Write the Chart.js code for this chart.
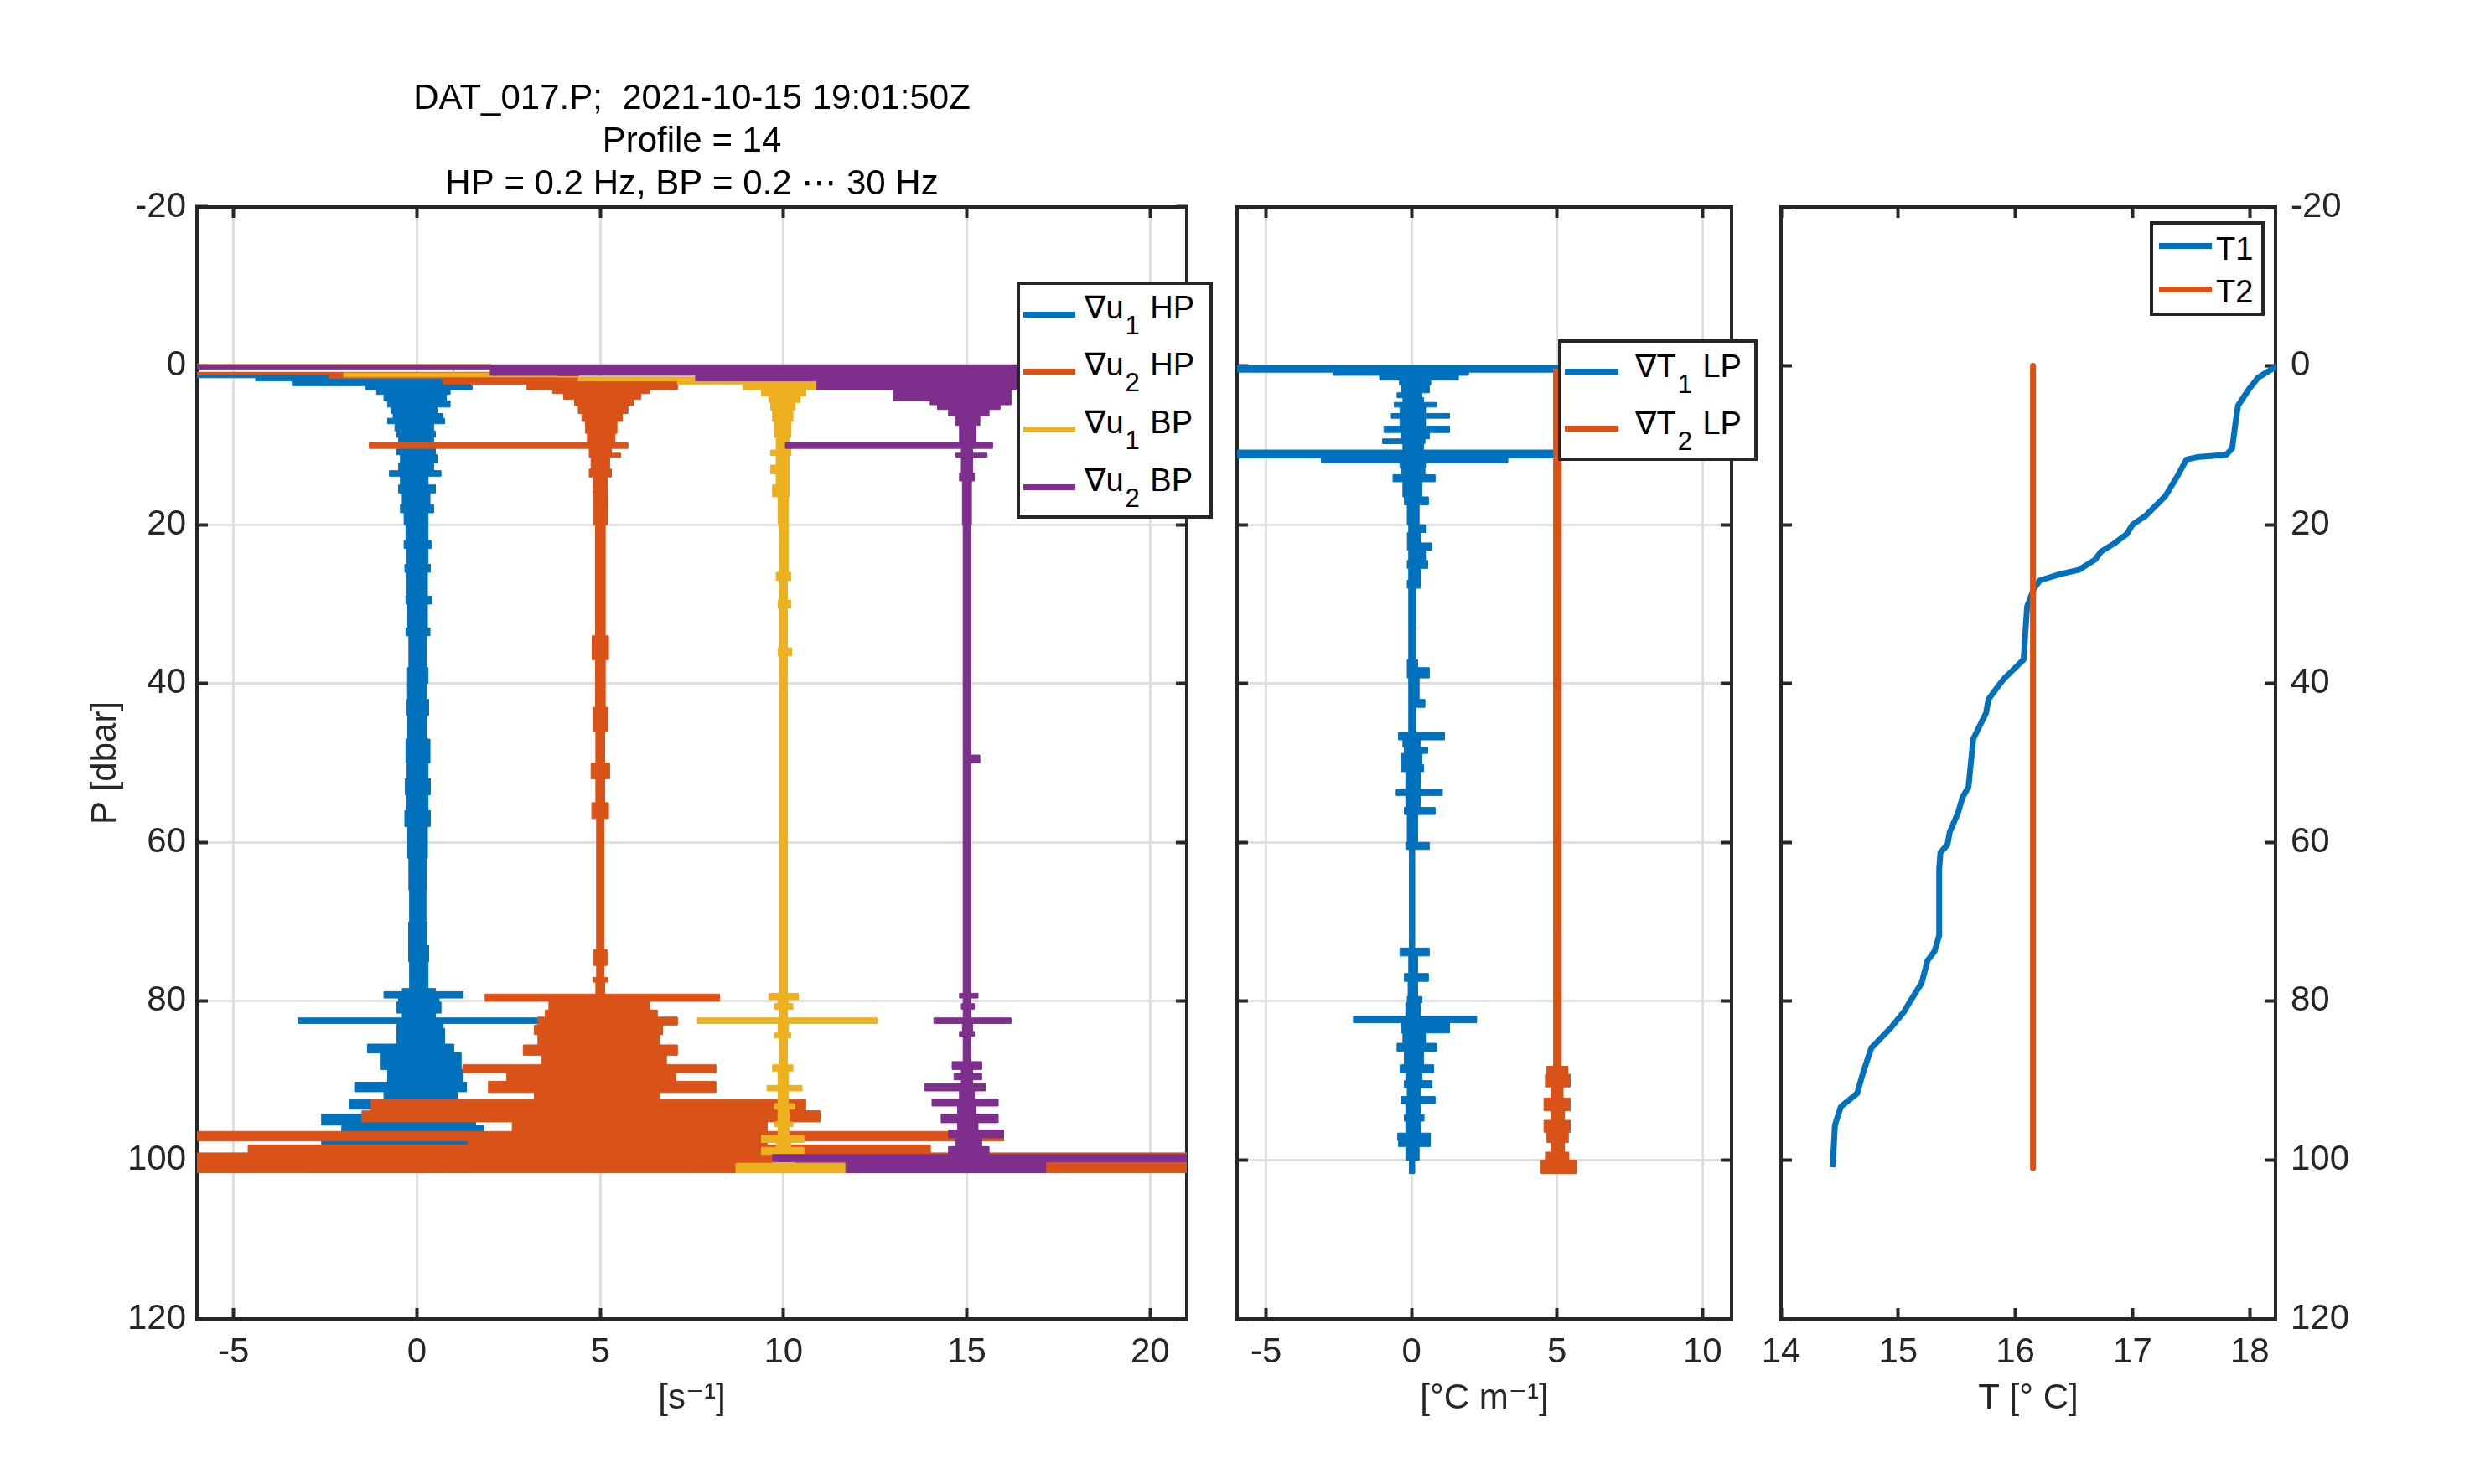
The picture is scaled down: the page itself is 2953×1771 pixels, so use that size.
<!DOCTYPE html>
<html>
<head>
<meta charset="utf-8">
<script src="https://cdn.jsdelivr.net/npm/chart.js@4.4.1/dist/chart.umd.min.js"></script>
<style>
html,body{margin:0;padding:0;background:#fff;}
#wrap{position:relative;width:2953px;height:1771px;overflow:hidden;background:#fff;font-family:"Liberation Sans",Arial,"DejaVu Sans",sans-serif;}
canvas{position:absolute;top:0;}
.leg{position:absolute;background:#fff;box-shadow:inset 0 0 0 4px #262626;}
.ls{position:absolute;height:7px;}
.lt{position:absolute;font-size:38px;line-height:38px;white-space:nowrap;color:#000;}
.lt sub{font-size:31px;vertical-align:-19px;line-height:0;margin-left:2px;margin-right:2px;}
</style>
</head>
<body>
<div id="wrap">
<canvas id="c1" width="1440" height="1771" style="left:0px"></canvas>
<canvas id="c2" width="660" height="1771" style="left:1440px"></canvas>
<canvas id="c3" width="853" height="1771" style="left:2100px"></canvas>

<div class="leg" style="left:1213px;top:336px;width:234px;height:283px">
  <div class="ls" style="left:8px;top:35.5px;width:62px;background:#0072BD"></div>
  <div class="lt" style="left:81px;top:12px">∇u<sub>1</sub> HP</div>
  <div class="ls" style="left:8px;top:103.5px;width:62px;background:#D95319"></div>
  <div class="lt" style="left:81px;top:80px">∇u<sub>2</sub> HP</div>
  <div class="ls" style="left:8px;top:172.5px;width:62px;background:#EDB120"></div>
  <div class="lt" style="left:81px;top:149px">∇u<sub>1</sub> BP</div>
  <div class="ls" style="left:8px;top:241.5px;width:62px;background:#7E2F8E"></div>
  <div class="lt" style="left:81px;top:218px">∇u<sub>2</sub> BP</div>
</div>

<div class="leg" style="left:1859px;top:405px;width:238px;height:145px">
  <div class="ls" style="left:8px;top:34.5px;width:64px;background:#0072BD"></div>
  <div class="lt" style="left:92px;top:13px">∇T<sub>1</sub> LP</div>
  <div class="ls" style="left:8px;top:102.5px;width:64px;background:#D95319"></div>
  <div class="lt" style="left:92px;top:81px">∇T<sub>2</sub> LP</div>
</div>

<div class="leg" style="left:2565px;top:264px;width:137px;height:113px">
  <div class="ls" style="left:11px;top:26px;width:63px;background:#0072BD"></div>
  <div class="lt" style="left:79px;top:13.5px">T1</div>
  <div class="ls" style="left:11px;top:77.5px;width:63px;background:#D95319"></div>
  <div class="lt" style="left:79px;top:65px">T2</div>
</div>
</div>

<script>
// ---------------- DATA ----------------
const TITLE_LINES = ['DAT_017.P;  2021-10-15 19:01:50Z', 'Profile = 14', 'HP = 0.2 Hz, BP = 0.2 \u22EF 30 Hz'];
const P_TICKS = [-20, 0, 20, 40, 60, 80, 100, 120];
const X1_TICKS = [-5, 0, 5, 10, 15, 20];
const X2_TICKS = [-5, 0, 5, 10];
const X3_TICKS = [14, 15, 16, 17, 18];

// Shear panel: band edges in pressure [dbar], with left/right extent of each band [s^-1]
// ∇u1 HP
const U1HP_P  = [1.0,1.5,1.9,2.5,3.0,3.6,4.4,5.2,6.0,6.6,7.3,8.2,9.0,9.7,10.4,11.2,12.2,13.2,13.9,15.0,16.0,17.5,18.5,20,22,23,25,26,29,30,33,34,38,40,42,44,47,50,52,54,56,58,62,66,70,73,75,78.4,78.8,79.6,80.1,81.5,82.1,82.8,83.4,85.4,86.5,88.6,90.2,91.4,92.4,93.6,94.2,95.6,96.7,97.6,98.2,99.2,101.5];
const U1HP_LO = [-6,-4.4,-3.4,-1.4,-1.1,-0.9,-0.8,-0.7,-0.65,-0.8,-0.6,-0.55,-0.5,-0.45,-0.55,-0.45,-0.5,-0.75,-0.45,-0.5,-0.4,-0.45,-0.35,-0.3,-0.35,-0.28,-0.33,-0.28,-0.3,-0.25,-0.3,-0.22,-0.26,-0.25,-0.28,-0.25,-0.3,-0.27,-0.32,-0.28,-0.33,-0.25,-0.22,-0.2,-0.23,-0.22,-0.2,-0.4,-0.9,-0.5,-0.55,-0.4,-3.24,-0.55,-0.55,-1.35,-1.0,-0.8,-1.7,-0.9,-1.85,-1.2,-2.6,-2.05,-1.2,-2.6,-4.6,-3.0];
const U1HP_HI = [1.0,1.5,1.45,1.5,0.9,0.8,0.9,0.55,0.7,0.75,0.45,0.5,0.45,0.45,0.5,0.55,0.45,0.65,0.3,0.5,0.35,0.45,0.3,0.3,0.38,0.3,0.36,0.28,0.4,0.28,0.35,0.25,0.3,0.25,0.32,0.27,0.35,0.3,0.36,0.3,0.36,0.28,0.25,0.24,0.27,0.32,0.3,0.5,1.25,0.6,0.65,0.5,3.3,0.7,0.75,1.0,1.2,1.25,1.35,1.1,1.25,1.4,1.6,1.8,1.6,1.4,1.4,1.5];
// ∇u2 HP (plotted with +5 offset)
const U2HP_P  = [0.75,1.05,1.6,2.3,3.0,3.5,4.2,5.0,6.0,7.0,8.5,9.7,10.4,11.0,11.5,13,14,16,20,34,37,43,46,50,52,55,57,73.5,75.5,77,77.6,79.1,80.0,81.1,82.0,83.0,84.2,85.5,86.8,88.0,89.0,90.1,91.5,92.4,93.8,95.2,96.4,97.6,98.1,99.1,101.6];
const U2HP_LO = [-6,-2.4,0.7,3.0,3.7,4.0,4.3,4.4,4.5,4.6,4.65,-1.3,4.7,4.7,4.75,4.7,4.8,4.82,4.87,4.78,4.87,4.8,4.88,4.75,4.88,4.77,4.9,4.82,4.9,4.8,4.88,1.86,3.6,3.5,3.3,3.2,3.3,2.9,3.4,1.25,2.45,1.95,3.2,-1.25,-1.5,2.6,-6,1.4,-4.6,-6];
const U2HP_HI = [3.7,4.4,7.1,7.1,6.35,6.1,5.9,5.75,5.6,5.45,5.4,5.75,5.3,5.55,5.25,5.3,5.2,5.18,5.13,5.22,5.13,5.2,5.12,5.25,5.12,5.22,5.1,5.18,5.1,5.2,5.12,8.25,6.35,6.55,7.1,6.7,6.6,7.1,6.8,8.15,7.05,8.15,6.6,10.6,11.0,9.55,16.0,9.55,14.0,21];
// ∇u1 BP (plotted with +10 offset)
const U1BP_P  = [-0.25,0.05,0.9,1.4,1.9,2.3,3.0,3.8,4.6,5.6,7.0,9.0,10.0,10.6,11.3,12.5,13.6,15,16.5,20,26,27,29.5,30.5,35.5,36.5,79.0,79.8,80.3,81.0,82.1,82.8,84.0,84.6,88.0,88.8,90.6,91.3,92.9,93.6,95.2,95.8,96.9,97.8,98.4,99.3,100.4,101.6];
const U1BP_LO = [-6,1.0,-2.0,4.4,7.1,8.9,9.4,9.6,9.65,9.7,9.75,9.8,9.8,9.65,9.8,9.65,9.8,9.7,9.85,9.88,9.8,9.88,9.85,9.88,9.85,9.88,9.6,9.85,9.75,9.88,7.65,9.85,9.75,9.88,9.7,9.85,9.55,9.85,9.75,9.85,9.75,9.85,9.4,9.8,9.4,9.7,8.7];
const U1BP_HI = [2.0,1.0,3.8,9.2,11.3,11.1,10.6,10.45,10.3,10.25,10.2,10.15,10.2,10.2,10.15,10.15,10.15,10.15,10.12,10.12,10.2,10.1,10.2,10.1,10.22,10.1,10.4,10.12,10.25,10.1,12.55,10.12,10.2,10.1,10.25,10.12,10.5,10.12,10.3,10.15,10.25,10.15,10.55,10.2,10.55,10.3,11.7];
// ∇u2 BP (plotted with +15 offset)
const U2BP_P  = [-0.2,0.4,1.2,1.9,3.0,4.4,4.9,5.5,6.3,7.5,9.7,10.4,11.0,11.5,13.5,14.5,20,49,50,79.0,79.6,80.3,81.0,82.1,82.8,83.8,84.4,87.6,88.6,89.1,89.9,90.4,91.3,92.3,93.2,94.2,95.3,96.2,97.2,98.3,99.3,100.2,101.6];
const U2BP_LO = [-6,2.0,7.6,10.9,13.0,14.0,14.2,14.5,14.7,14.8,10.05,14.85,14.7,14.85,14.8,14.88,14.9,14.9,14.9,14.8,14.9,14.85,14.9,14.1,14.88,14.8,14.9,14.6,14.85,14.65,14.85,13.85,14.8,14.05,14.75,14.3,14.75,14.5,14.7,14.5,9.7,11.7];
const U2BP_HI = [17.0,16.9,16.6,16.5,16.2,16.2,15.9,15.6,15.35,15.25,15.7,15.15,15.55,15.15,15.2,15.12,15.1,15.35,15.1,15.3,15.1,15.2,15.1,16.2,15.15,15.2,15.1,15.4,15.15,15.4,15.15,15.5,15.2,15.85,15.25,15.85,15.3,16.0,15.4,15.6,21,17.15];

// Temperature gradient panel [°C m^-1]
const T1LP_P  = [-0.1,0.8,1.2,1.8,2.4,3.4,4.0,4.6,5.2,6.0,6.6,7.6,8.4,9.2,9.8,10.6,11.6,12.2,12.8,13.7,14.6,16.5,17.5,20,21,22.3,23.2,24.5,25.5,27,28,33,37,38,39.3,42,43,46.2,47.1,48.0,48.8,50.2,51.1,53.3,54.1,55.6,56.5,60.0,60.9,73.3,74.3,76.5,77.5,79.4,80.2,81.9,82.7,84.0,85.3,86.3,88.0,89.0,90.0,90.9,92.0,92.9,94.3,95.1,96.6,97.5,98.3,100.0,101.7];
const T1LP_LO = [-6,-2.7,-1.1,-0.42,-0.35,-0.5,-0.3,-0.6,-0.4,-0.7,-0.4,-0.95,-0.35,-1.0,-0.3,-6,-3.1,-0.4,-0.35,-0.64,-0.3,-0.25,-0.15,-0.1,-0.15,-0.14,-0.1,-0.15,-0.1,-0.15,-0.1,-0.1,-0.15,-0.15,-0.1,-0.1,-0.1,-0.45,-0.3,-0.25,-0.35,-0.35,-0.2,-0.53,-0.2,-0.25,-0.15,-0.2,-0.08,-0.4,-0.1,-0.25,-0.12,-0.15,-0.2,-2.0,-0.35,-0.3,-0.5,-0.25,-0.4,-0.2,-0.25,-0.15,-0.36,-0.2,-0.25,-0.2,-0.48,-0.45,-0.2,-0.08];
const T1LP_HI = [8,1.95,1.6,0.65,0.6,0.35,0.4,0.85,0.5,1.3,0.5,1.3,0.6,0.45,0.4,8,3.3,0.5,0.45,0.8,0.35,0.57,0.25,0.5,0.3,0.68,0.5,0.55,0.3,0.3,0.15,0.12,0.2,0.6,0.25,0.45,0.15,1.13,0.3,0.55,0.35,0.4,0.3,1.05,0.3,0.8,0.2,0.6,0.1,0.6,0.2,0.57,0.2,0.35,0.3,2.23,1.3,0.5,0.85,0.4,0.75,0.35,0.7,0.3,0.8,0.3,0.42,0.3,0.65,0.63,0.25,0.1];
// ∇T2 LP (plotted with +5 offset)
const T2LP_P  = [0.3,88.2,89.2,90.8,92.2,93.8,95.0,96.5,97.8,99.0,100.0,101.7];
const T2LP_LO = [4.88,4.65,4.6,4.8,4.55,4.8,4.55,4.65,4.8,4.6,4.45];
const T2LP_HI = [5.14,5.37,5.45,5.2,5.45,5.25,5.45,5.38,5.25,5.4,5.65];

// Temperature profiles [°C] vs pressure [dbar]
const T1_P = [0,0.5,1.5,3.0,5.0,7.0,10.4,11.2,11.5,11.8,13.7,16.4,18.9,20.0,21.2,22.4,23.4,24.4,25.7,26.2,27.0,28.0,30.3,37.0,37.7,39.3,40.0,42.0,43.7,47.0,53.0,54.3,56.3,58.7,60.3,61.3,63.3,71.7,73.7,74.9,77.7,80.3,81.3,83.3,85.9,89.0,91.6,93.3,95.6,100.9];
const T1_T = [18.23,18.18,18.07,17.99,17.9,17.88,17.85,17.8,17.55,17.46,17.39,17.28,17.11,17.0,16.95,16.84,16.73,16.68,16.54,16.39,16.21,16.16,16.1,16.07,16.02,15.91,15.87,15.77,15.75,15.64,15.6,15.55,15.51,15.44,15.42,15.36,15.35,15.35,15.31,15.25,15.2,15.09,15.05,14.94,14.77,14.7,14.65,14.51,14.46,14.44];
const T2_P = [0, 101];
const T2_T = [16.15, 16.15];

// ---------------- STYLE ----------------
const FF = '"Liberation Sans", Arial, "DejaVu Sans", sans-serif';
const FS = 42;
const AX = '#262626', GRIDC = '#dfdfdf';
const BLUE = '#0072BD', ORANGE = '#D95319', YELLOW = '#EDB120', PURPLE = '#7E2F8E';
Chart.defaults.font.family = FF;
Chart.defaults.font.size = FS;
Chart.defaults.color = AX;

function bandPoints(P, LO, HI) {
  const n = Math.min(LO.length, HI.length, P.length - 1);
  const pts = [];
  for (let i = 0; i < n; i++) { pts.push({x: HI[i], y: P[i]}, {x: HI[i], y: P[i + 1]}); }
  for (let i = n - 1; i >= 0; i--) { pts.push({x: LO[i], y: P[i + 1]}, {x: LO[i], y: P[i]}); }
  return pts;
}
function band(label, P, LO, HI, color, order) {
  return {label, data: bandPoints(P, LO, HI), showLine: true, fill: 'shape',
    backgroundColor: color, borderColor: color, borderWidth: 1, pointRadius: 0, tension: 0, order};
}
function profile(label, P, T, color, order) {
  return {label, data: P.map((p, i) => ({x: T[i], y: p})), showLine: true, fill: false,
    backgroundColor: color, borderColor: color, borderWidth: 7, pointRadius: 0, tension: 0,
    borderJoinStyle: 'round', order};
}
function axis(o) {
  const horiz = o.pos === 'top' || o.pos === 'bottom';
  return {
    type: 'linear', axis: horiz ? 'x' : 'y', position: o.pos, min: o.min, max: o.max, reverse: !!o.reverse,
    afterBuildTicks: a => { a.ticks = o.ticks.map(v => ({value: v})); },
    afterFit: a => {
      if (horiz) { a.height = o.fit; a.paddingLeft = 0; a.paddingRight = 0; }
      else { a.width = o.fit; a.paddingTop = 0; a.paddingBottom = 0; }
    },
    grid: {display: true, drawOnChartArea: !!o.grid, drawTicks: true, tickLength: -13,
      color: GRIDC, lineWidth: 3, tickColor: AX, tickWidth: 4},
    border: {display: true, color: AX, width: 4},
    ticks: {display: !!o.labels, color: AX, font: {family: FF, size: FS}, padding: o.pad || 0,
      maxRotation: 0, minRotation: 0, autoSkip: false},
    title: o.title ? {display: true, text: o.title, color: AX, font: {family: FF, size: FS},
      padding: {top: o.tpad, bottom: o.tpad}} : {display: false}
  };
}
const base = {responsive: false, animation: false, devicePixelRatio: 1, events: [], layout: {padding: 0}};
const noPlug = {legend: {display: false}, tooltip: {enabled: false}};

// Panel 1: shear
new Chart(document.getElementById('c1'), {
  type: 'scatter',
  data: {datasets: [
    band('\u2207u\u2081 HP', U1HP_P, U1HP_LO, U1HP_HI, BLUE, 4),
    band('\u2207u\u2082 HP', U2HP_P, U2HP_LO, U2HP_HI, ORANGE, 3),
    band('\u2207u\u2081 BP', U1BP_P, U1BP_LO, U1BP_HI, YELLOW, 2),
    band('\u2207u\u2082 BP', U2BP_P, U2BP_LO, U2BP_HI, PURPLE, 1)
  ]},
  options: Object.assign({}, base, {
    plugins: Object.assign({}, noPlug, {
      title: {display: true, text: TITLE_LINES, fullSize: false, color: '#000',
        font: {family: FF, size: FS, weight: 'normal', lineHeight: 51 / FS}, padding: {top: 93, bottom: 1}}
    }),
    scales: {
      x: axis({pos: 'bottom', min: -6, max: 21, ticks: X1_TICKS, labels: true, grid: true, fit: 197, pad: 28, title: '[s\u207B\u00B9]', tpad: 76}),
      x2: axis({pos: 'top', min: -6, max: 21, ticks: X1_TICKS, fit: 0}),
      y: axis({pos: 'left', min: -20, max: 120, reverse: true, ticks: P_TICKS, labels: true, grid: true, fit: 235, pad: 26, title: 'P [dbar]', tpad: 101}),
      y2: axis({pos: 'right', min: -20, max: 120, reverse: true, ticks: P_TICKS, fit: 24})
    }
  })
});

// Panel 2: temperature gradient
new Chart(document.getElementById('c2'), {
  type: 'scatter',
  data: {datasets: [
    band('\u2207T\u2081 LP', T1LP_P, T1LP_LO, T1LP_HI, BLUE, 2),
    band('\u2207T\u2082 LP', T2LP_P, T2LP_LO, T2LP_HI, ORANGE, 1)
  ]},
  options: Object.assign({}, base, {
    plugins: noPlug,
    scales: {
      x: axis({pos: 'bottom', min: -6, max: 11, ticks: X2_TICKS, labels: true, grid: true, fit: 197, pad: 28, title: '[\u00B0C m\u207B\u00B9]', tpad: 76}),
      x2: axis({pos: 'top', min: -6, max: 11, ticks: X2_TICKS, fit: 247}),
      y: axis({pos: 'left', min: -20, max: 120, reverse: true, ticks: P_TICKS, grid: true, fit: 36}),
      y2: axis({pos: 'right', min: -20, max: 120, reverse: true, ticks: P_TICKS, fit: 34})
    }
  })
});

// Panel 3: temperature
new Chart(document.getElementById('c3'), {
  type: 'scatter',
  data: {datasets: [
    profile('T1', T1_P, T1_T, BLUE, 2),
    profile('T2', T2_P, T2_T, ORANGE, 1)
  ]},
  options: Object.assign({}, base, {
    plugins: noPlug,
    scales: {
      x: axis({pos: 'bottom', min: 14, max: 18.22, ticks: X3_TICKS, labels: true, fit: 197, pad: 28, title: 'T [\u00B0 C]', tpad: 76}),
      x2: axis({pos: 'top', min: 14, max: 18.22, ticks: X3_TICKS, fit: 247}),
      y: axis({pos: 'left', min: -20, max: 120, reverse: true, ticks: P_TICKS, fit: 25}),
      y2: axis({pos: 'right', min: -20, max: 120, reverse: true, ticks: P_TICKS, labels: true, pad: 31, fit: 238})
    }
  })
});
</script>
</body>
</html>
